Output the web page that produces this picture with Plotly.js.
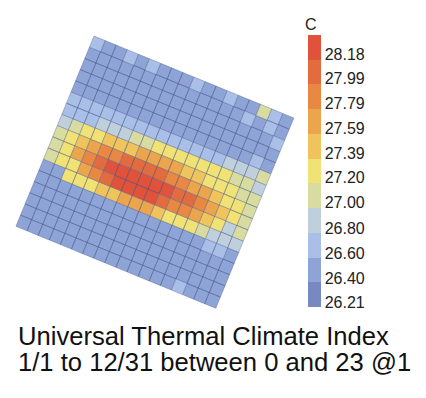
<!DOCTYPE html>
<html><head><meta charset="utf-8">
<script src="https://cdn.plot.ly/plotly-3.0.1.min.js"></script>
<style>html,body{margin:0;padding:0;background:#fff;overflow:hidden}</style>
</head><body><div id="chart" style="width:426px;height:398px"></div>
<script>
// ---- data ----
const legendLabels = [26.21, 26.40, 26.60, 26.80, 27.00, 27.20, 27.39, 27.59, 27.79, 27.99, 28.18];
const legendText = ['26.21','26.40','26.60','26.80','27.00','27.20','27.39','27.59','27.79','27.99','28.18'];
const legendTitle = 'C';
const titleLine1 = 'Universal Thermal Climate Index';
const titleLine2 = '1/1 to 12/31 between 0 and 23 @1';

// UTCI per grid cell (rows top->bottom, columns left->right of the rotated grid)
const row00 = [26.66,26.47,26.47,26.66,26.47,26.66,26.47,26.47,26.47,26.66,26.47,26.47,26.66,26.47,26.47,27.06,26.66,26.47];
const row01 = [26.47,26.47,26.47,26.47,26.47,26.47,26.47,26.47,26.47,26.47,26.47,26.47,26.47,26.47,26.66,26.47,26.66,26.47];
const row02 = [26.47,26.47,26.47,26.47,26.47,26.47,26.47,26.47,26.47,26.47,26.47,26.47,26.47,26.47,26.47,26.47,26.47,26.66];
const row03 = [26.47,26.47,26.47,26.47,26.47,26.47,26.47,26.47,26.47,26.47,26.47,26.47,26.47,26.47,26.47,26.47,26.47,26.47];
const row04 = [26.47,26.47,26.47,26.47,26.47,26.47,26.47,26.47,26.47,26.47,26.47,26.47,26.47,26.47,26.47,26.47,26.66,26.47];
const row05 = [26.66,26.66,26.66,26.66,26.66,26.66,26.66,26.66,26.66,26.66,26.66,26.66,26.66,26.66,26.86,26.86,26.86,27.06];
const row06 = [26.66,26.66,26.66,26.86,26.86,26.86,27.06,27.06,27.26,27.26,27.26,27.26,27.26,27.26,27.26,27.06,27.06,26.86];
const row07 = [26.86,27.06,27.26,27.26,27.45,27.45,27.45,27.65,27.65,27.65,27.65,27.45,27.45,27.26,27.26,27.26,27.06,27.06];
const row08 = [27.06,27.26,27.45,27.65,27.85,27.85,28.04,28.04,28.04,28.04,27.85,27.85,27.65,27.65,27.45,27.26,27.26,27.06];
const row09 = [27.06,27.26,27.65,27.85,28.04,28.18,28.18,28.18,28.18,28.18,28.18,28.04,28.04,27.85,27.65,27.45,27.26,27.06];
const row10 = [27.06,27.26,27.26,27.65,27.85,28.04,28.18,28.18,28.18,28.18,28.04,27.85,27.85,27.65,27.45,27.26,26.86,27.06];
const row11 = [26.47,26.47,27.26,27.26,27.26,27.45,27.45,27.65,27.65,27.65,27.45,27.26,27.26,27.26,27.06,26.86,26.86,26.86];
const row12 = [26.47,26.47,26.47,26.47,26.47,26.47,26.47,26.47,26.47,26.47,26.47,26.47,26.47,26.47,26.47,26.66,26.66,26.47];
const row13 = [26.47,26.47,26.47,26.47,26.47,26.47,26.47,26.47,26.47,26.47,26.47,26.47,26.47,26.47,26.47,26.47,26.47,26.47];
const row14 = [26.47,26.47,26.47,26.47,26.47,26.47,26.47,26.47,26.47,26.47,26.47,26.47,26.47,26.47,26.47,26.47,26.47,26.47];
const row15 = [26.47,26.47,26.47,26.47,26.47,26.47,26.47,26.47,26.47,26.47,26.47,26.47,26.47,26.47,26.47,26.47,26.47,26.47];
const row16 = [26.47,26.47,26.47,26.47,26.47,26.47,26.47,26.47,26.47,26.47,26.47,26.47,26.47,26.47,26.66,26.47,26.47,26.47];
const utci = [row00,row01,row02,row03,row04,row05,row06,row07,row08,row09,row10,row11,row12,row13,row14,row15,row16];

// ---- styles / geometry ----
const binColors = ['#7789c0','#8ea3d6','#a9bfe8','#bfd0dc','#d9dca0','#f1e275','#efc45c','#eba54c','#e88843','#e36c3f','#e0523a'];
const borderColor = 'rgba(70,85,135,0.36)';
const FONT = 'Liberation Sans, Arial, Helvetica, sans-serif';
const G = {x0: 94, y0: 36, angleDeg: 22.3, cellW: 12.0, cellH: 12.1};
const BAR = {left: 308, bottom: 307, len: 272, thick: 13};

const step = (legendLabels[legendLabels.length-1] - legendLabels[0]) / (legendLabels.length - 1);
const binLow = legendLabels[0] - 0.04;
const nBins = binColors.length;
const binHigh = binLow + nBins * step;
function binOf(v){ let k = Math.floor((v - binLow) / step); return Math.max(0, Math.min(nBins-1, k)); }

const th = G.angleDeg * Math.PI / 180, ct = Math.cos(th), st = Math.sin(th);
function pt(a, b){ return [G.x0 + a*G.cellW*ct - b*G.cellH*st, G.y0 + a*G.cellW*st + b*G.cellH*ct]; }

const binX = binColors.map(()=>[]), binY = binColors.map(()=>[]);
const cx = [], cy = [], cv = [];
utci.forEach((row, r) => row.forEach((v, c) => {
  const k = binOf(v);
  [[c,r],[c+1,r],[c+1,r+1],[c,r+1],[c,r]].forEach(([a,b]) => { const p = pt(a,b); binX[k].push(p[0]); binY[k].push(p[1]); });
  binX[k].push(null); binY[k].push(null);
  const m = pt(c+0.5, r+0.5); cx.push(m[0]); cy.push(m[1]); cv.push(v);
}));

const traces = binColors.map((col, k) => ({
  type: 'scatter', mode: 'lines', x: binX[k], y: binY[k], fill: 'toself', fillcolor: col,
  line: {color: borderColor, width: 1}, hoverinfo: 'skip', showlegend: false
}));

const colorscale = [];
binColors.forEach((col, k) => { colorscale.push([k/nBins, col]); colorscale.push([(k+1)/nBins, col]); });

traces.push({
  type: 'scatter', mode: 'markers', x: cx, y: cy,
  marker: {size: 1, opacity: 0, color: cv, cmin: binLow, cmax: binHigh, colorscale: colorscale, showscale: true,
    colorbar: {thickness: BAR.thick, thicknessmode: 'pixels', len: BAR.len, lenmode: 'pixels',
      x: BAR.left/426, xanchor: 'left', y: 1 - BAR.bottom/398, yanchor: 'bottom', xpad: 0, ypad: 0,
      outlinewidth: 0, tickvals: legendLabels, ticktext: legendText, ticks: '', ticklabelpad: 1,
      tickfont: {family: FONT, size: 16, color: '#222'}}},
  hovertemplate: '%{marker.color:.2f} C<extra></extra>', showlegend: false
});

const shapes = [];
for (let k = 1; k < nBins; k++) {
  const yy = BAR.bottom - k * BAR.len / nBins;
  shapes.push({type: 'line', xref: 'x', yref: 'y', x0: BAR.left, x1: BAR.left + BAR.thick, y0: yy, y1: yy,
    line: {color: 'rgba(110,90,80,0.35)', width: 1}});
}

const layout = {
  width: 426, height: 398, margin: {l: 0, r: 0, t: 0, b: 0},
  paper_bgcolor: '#fff', plot_bgcolor: '#fff', showlegend: false,
  xaxis: {range: [0, 426], visible: false, fixedrange: true},
  yaxis: {range: [398, 0], visible: false, fixedrange: true},
  shapes: shapes,
  annotations: [
    {text: legendTitle, x: 311, y: 24, xref: 'x', yref: 'y', xanchor: 'center', yanchor: 'middle', showarrow: false,
     font: {family: FONT, size: 16, color: '#222'}},
    {text: titleLine1, x: 16, y: 336, xref: 'x', yref: 'y', xanchor: 'left', yanchor: 'middle', showarrow: false,
     font: {family: FONT, size: 25.6, color: '#111'}},
    {text: titleLine2, x: 16, y: 362, xref: 'x', yref: 'y', xanchor: 'left', yanchor: 'middle', showarrow: false,
     font: {family: FONT, size: 25.6, color: '#111'}}
  ]
};

Plotly.newPlot('chart', traces, layout, {displayModeBar: false, staticPlot: true});
</script></body></html>
